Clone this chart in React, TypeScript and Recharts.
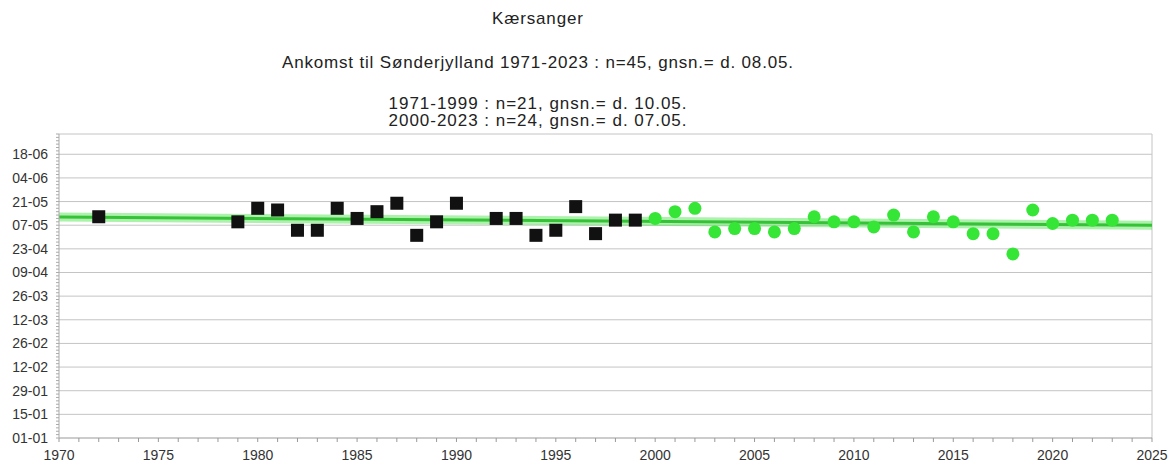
import React from 'react'
import {
    ComposedChart,
    Scatter,
    Line,
    XAxis,
    YAxis,
    CartesianGrid,
} from 'recharts'

// ankomstdag (dag i året) pr. år
const years1 = [1972, 1979, 1980, 1981, 1982, 1983, 1984, 1985, 1986, 1987, 1988, 1989, 1990, 1992, 1993, 1994, 1995, 1996, 1997, 1998, 1999]
const days1 = [132, 129, 137, 136, 124, 124, 137, 131, 135, 140, 121, 129, 140, 131, 131, 121, 124, 138, 122, 130, 130]

const years2 = [2000, 2001, 2002, 2003, 2004, 2005, 2006, 2007, 2008, 2009, 2010, 2011, 2012, 2013, 2014, 2015, 2016, 2017, 2018, 2019, 2020, 2021, 2022, 2023]
const days2 = [131, 135, 137, 123, 125, 125, 123, 125, 132, 129, 129, 126, 133, 123, 132, 129, 122, 122, 110, 136, 128, 130, 130, 130]

const trendYears = [1970, 2025]
const trendDays = [131.9, 127]

const dayTicks = [1, 15, 29, 43, 57, 71, 85, 99, 113, 127, 141, 155, 169]
const dayLabels = ['01-01', '15-01', '29-01', '12-02', '26-02', '12-03', '26-03', '09-04', '23-04', '07-05', '21-05', '04-06', '18-06']

const titleLines = [
    'Kærsanger',
    'Ankomst til Sønderjylland 1971-2023 : n=45, gnsn.= d. 08.05.',
    '1971-1999 : n=21, gnsn.= d. 10.05.',
    '2000-2023 : n=24, gnsn.= d. 07.05.',
]
const titleBaselines = [24, 68, 109, 126]
const titleWidths = [91, 511, 298, 298]

const FONT = '"Liberation Sans", Arial, sans-serif'

const data1 = years1.map((year, i) => ({ year, day: days1[i] }))
const data2 = years2.map((year, i) => ({ year, day: days2[i] }))
const trend = trendYears.map((year, i) => ({ year, day: trendDays[i] }))

const minorDays: number[] = []
for (let d = 1; d <= 181; d += 2) minorDays.push(d)
const allYears: number[] = []
for (let y = 1970; y <= 2025; y++) allYears.push(y)

const Square = (props: any) => {
    const { cx, cy } = props
    return <rect x={cx - 6.5} y={cy - 6.5} width={13} height={13} fill="#111" />
}

const Dot = (props: any) => {
    const { cx, cy } = props
    return <circle cx={cx} cy={cy} r={6.5} fill="#36e636" />
}

const DayTick = (props: any) => {
    const { x, y, payload } = props
    const idx = dayTicks.indexOf(payload.value)
    if (idx < 0) return null
    return (
        <text x={x - 6} y={y + 5} textAnchor="end" fontSize={14} fill="#333" fontFamily={FONT}>
            {dayLabels[idx]}
        </text>
    )
}

const YearTick = (props: any) => {
    const { x, y, payload } = props
    if (payload.value % 5 !== 0) return null
    return (
        <text x={x} y={y + 16} textAnchor="middle" fontSize={14} fill="#333" fontFamily={FONT}>
            {payload.value}
        </text>
    )
}

export default function App() {
    return (
        <div style={{ position: 'absolute', left: 0, top: 0, width: 1174, height: 467, background: '#fff' }}>
            <ComposedChart
                width={1174}
                height={467}
                margin={{ top: 134, right: 22, bottom: 0, left: 0 }}
                style={{ position: 'absolute', left: 0, top: 0 }}
            >
                <CartesianGrid
                    stroke="#c4c4c4"
                    horizontalValues={[...dayTicks.slice(1), 181]}
                    verticalValues={[2025]}
                />
                <XAxis
                    type="number"
                    dataKey="year"
                    domain={[1970, 2025]}
                    ticks={allYears}
                    interval={0}
                    tick={<YearTick />}
                    tickSize={4}
                    height={29}
                    stroke="#999"
                    allowDataOverflow
                />
                <YAxis
                    type="number"
                    dataKey="day"
                    domain={[1, 181]}
                    ticks={minorDays}
                    interval={0}
                    tick={<DayTick />}
                    tickSize={3}
                    width={59}
                    stroke="#aaa"
                    allowDataOverflow
                />
                <Scatter data={data1} shape={<Square />} isAnimationActive={false} />
                <Scatter data={data2} shape={<Dot />} isAnimationActive={false} />
                <Line
                    data={trend}
                    dataKey="day"
                    type="linear"
                    stroke="rgba(70,225,70,0.45)"
                    strokeWidth={9}
                    dot={false}
                    activeDot={false}
                    isAnimationActive={false}
                />
                <Line
                    data={trend}
                    dataKey="day"
                    type="linear"
                    stroke="#36c236"
                    strokeWidth={3}
                    dot={false}
                    activeDot={false}
                    isAnimationActive={false}
                />
            </ComposedChart>
            <svg width={1174} height={134} style={{ position: 'absolute', left: 0, top: 0 }}>
                {titleLines.map((t, i) => (
                    <text
                        key={i}
                        x={537.5}
                        y={titleBaselines[i]}
                        textAnchor="middle"
                        fontFamily={FONT}
                        fontSize={17}
                        fill="#222"
                        textLength={titleWidths[i]}
                        lengthAdjust="spacing"
                    >
                        {t}
                    </text>
                ))}
            </svg>
        </div>
    )
}
